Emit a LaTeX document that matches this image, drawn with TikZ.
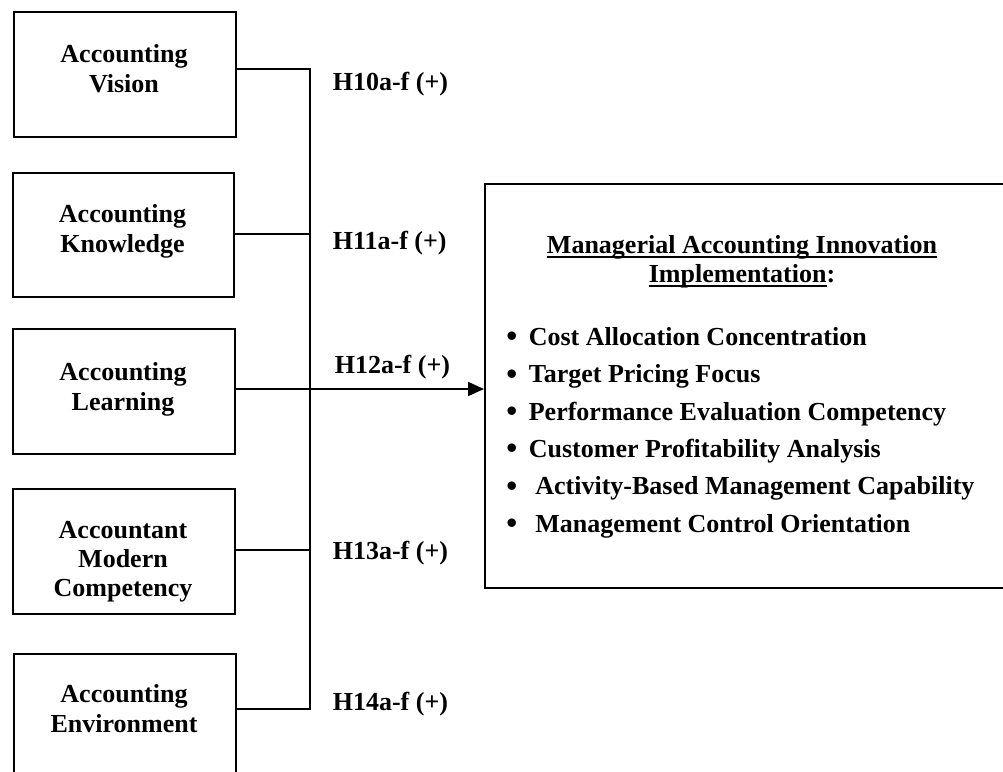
\documentclass[tikz,border=0pt]{standalone}
\usepackage{fontspec}
\setmainfont{Liberation Serif}
\usetikzlibrary{arrows.meta}
% underline with a fixed rule just under the baseline
\newcommand\undl[1]{\setbox0=\hbox{#1}\rlap{\rule[-4.5pt]{\wd0}{1.4pt}}\box0}
% list bullet in a fixed-width slot
\newcommand\blt{\makebox[34pt][c]{\raisebox{-1.5pt}{\scalebox{1.2}{•}}}}
\begin{document}
\begin{tikzpicture}[x=1pt, y=-1pt, line width=1.7pt,
  txt/.style={inner sep=0pt, font=\fontsize{26}{30}\selectfont\bfseries},
  varbox/.style={draw, rectangle, anchor=north west, inner sep=0pt,
                 minimum width=222pt, minimum height=125pt},
  boxtext/.style={txt, anchor=north, align=center},
  hyp/.style={txt, anchor=base west},
  item/.style={txt, anchor=base west},
  title/.style={txt, anchor=base},
  link/.style={line width=1.7pt},
  arrow/.style={link, -{Triangle[length=16pt,width=14pt]}}]

\useasboundingbox (0,0) rectangle (1003,771);
\clip (0,0) rectangle (1003,771);
\fill[white] (0,0) rectangle (1003,771);

% independent variables
\node[varbox] (b1) at (13,11) {};
\node[varbox, minimum width=221pt, minimum height=124pt] (b2) at (12,172) {};
\node[varbox] (b3) at (12,328) {};
\node[varbox] (b4) at (12,488) {};
\node[varbox, minimum height=135pt] (b5) at (13,653) {};

\node[boxtext] (t1) at (124,44) {Accounting\\Vision};
\node[boxtext] (t2) at (122.5,204) {Accounting\\Knowledge};
\node[boxtext] (t3) at (123,362) {Accounting\\Learning};
\node[boxtext, font=\fontsize{26}{29}\selectfont\bfseries] (t4) at (123,520) {Accountant\\Modern\\Competency};
\node[boxtext] (t5) at (124,684) {Accounting\\Environment};

% dependent variable
\node[draw, rectangle, anchor=north west, inner sep=0pt,
      minimum width=560pt, minimum height=404pt] (out) at (484,183) {};
\node[title] (h1) at (742,253) {\undl{Managerial Accounting Innovation}};
\node[title] (h2) at (742,282) {\undl{Implementation}:};
\node[item] (i1) at (494,345)   {\blt Cost Allocation Concentration};
\node[item] (i2) at (494,382.5) {\blt Target Pricing Focus};
\node[item] (i3) at (494,420)   {\blt Performance Evaluation Competency};
\node[item] (i4) at (494,457)   {\blt Customer Profitability Analysis};
\node[item] (i5) at (494,494.5) {\blt\ Activity-Based Management Capability};
\node[item] (i6) at (494,532)   {\blt\ Management Control Orientation};

% junction points on the collecting line
\coordinate (j1) at (310,69);
\coordinate (j2) at (310,234);
\coordinate (j3) at (310,389);
\coordinate (j4) at (310,550);
\coordinate (j5) at (310,709);

\draw[link] (b1.east |- j1) -- (j1) -- (j5) -- (b5.east |- j5);
\draw[link] (b2.east |- j2) -- (j2);
\draw[link] (b4.east |- j4) -- (j4);
\draw[arrow] (b3.east |- j3) -- (out.west |- j3);

% hypothesis labels
\node[hyp] (p10) at (332,90)  {H10a-f (+)};
\node[hyp] (p11) at (332,249) {H11a-f (+)};
\node[hyp] (p12) at (334,373) {H12a-f (+)};
\node[hyp] (p13) at (332,559) {H13a-f (+)};
\node[hyp] (p14) at (332,710) {H14a-f (+)};
\end{tikzpicture}
\end{document}
